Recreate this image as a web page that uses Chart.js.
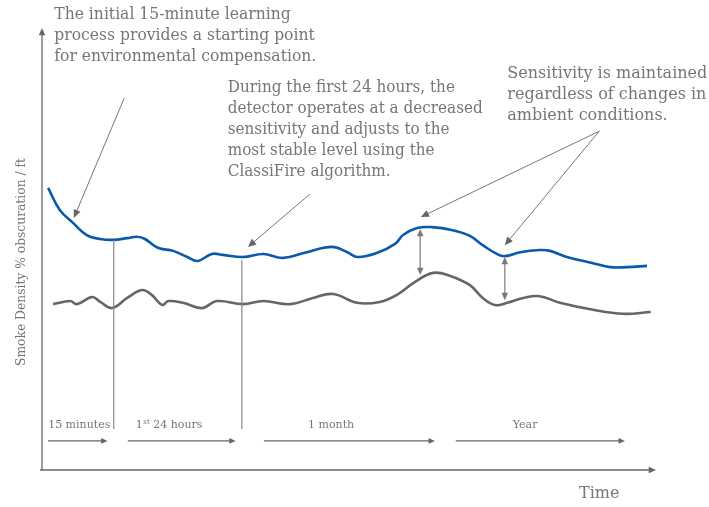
<!DOCTYPE html>
<html>
<head>
<meta charset="utf-8">
<script src="https://cdn.jsdelivr.net/npm/chart.js@4/dist/chart.umd.min.js"></script>
<style>body{margin:0;background:#fff}</style>
</head>
<body>
<canvas id="sensitivity-chart" width="709" height="507"></canvas>
<script>
// time runs 0..100 along x, smoke density 0..100 up y (no real units in the drawing)
var blueTime = [1.0, 2.9, 5.1, 7.3, 9.5, 11.7, 13.9, 15.5, 16.8, 18.9, 21.4, 23.7, 25.4, 27.7, 29.5, 32.8, 36.1, 39.3, 43.2, 47.3, 49.8, 51.5, 54.6, 57.6, 58.9, 61.2, 63.6, 67.0, 69.8, 71.9, 74.2, 75.5, 78.0, 81.2, 82.9, 85.6, 89.9, 92.7, 95.4, 98.7];
var blueDensity = [64.1, 59.1, 56.1, 53.4, 52.5, 52.3, 52.7, 53.0, 52.5, 50.5, 49.8, 48.4, 47.5, 49.1, 48.9, 48.4, 49.1, 48.2, 49.5, 50.7, 49.5, 48.4, 49.3, 51.4, 53.4, 55.0, 55.2, 54.5, 53.2, 51.1, 49.1, 48.6, 49.5, 50.0, 49.8, 48.4, 47.0, 46.1, 46.1, 46.4];
var greyTime = [1.8, 4.6, 5.7, 8.2, 9.5, 11.4, 13.9, 16.3, 17.9, 19.6, 20.6, 23.0, 26.1, 28.5, 32.8, 36.1, 40.5, 44.2, 47.5, 51.4, 55.1, 57.9, 60.8, 63.8, 66.6, 69.8, 71.9, 73.9, 75.9, 78.5, 81.2, 84.5, 89.9, 94.8, 99.3];
var greyDensity = [37.7, 38.4, 37.7, 39.3, 38.2, 36.8, 39.1, 40.9, 39.8, 37.5, 38.4, 38.0, 36.8, 38.4, 37.7, 38.4, 37.7, 39.1, 40.0, 38.0, 38.2, 39.8, 42.7, 44.8, 44.1, 42.0, 39.1, 37.5, 38.0, 39.1, 39.5, 38.0, 36.4, 35.5, 35.9];

// phases along the bottom
var phaseLabels = ['15 minutes', '1st 24 hours', '1 month', 'Year'];
var phaseStart = [1.0, 14.0, 36.2, 67.5];
var phaseEnd = [10.7, 31.6, 64.1, 95.1];
var phaseLabelStart = [1.0, 15.3, 43.4, 76.8];

// phase boundaries dropped from the blue line
var markerTime = [11.7, 32.6];
var markerTop = [52.3, 47.7];

// sensitivity gap between the lines
var gapTime = [61.7, 75.5];
var gapTop = [54.8, 48.4];
var gapBottom = [44.3, 38.6];

var notes = [
  { x: 2.0, y: 103.4, lines: ['The initial 15-minute learning', 'process provides a starting point', 'for environmental compensation.'], width: 262,
    arrows: [[13.4, 84.5, 5.2, 57.3]] },
  { x: 30.3, y: 86.8, lines: ['During the first 24 hours, the', 'detector operates at a decreased', 'sensitivity and adjusts to the', 'most stable level using the', 'ClassiFire algorithm.'], width: 255,
    arrows: [[43.7, 62.7, 33.6, 50.7]] },
  { x: 75.9, y: 90.0, lines: ['Sensitivity is maintained', 'regardless of changes in', 'ambient conditions.'], width: 200,
    arrows: [[90.9, 77.0, 61.8, 57.5], [90.9, 77.0, 75.5, 51.1]] }
];

var FONT = '"DejaVu Serif", serif';
var TEXT = '#767676';

function toPoints(xs, ys) {
  return xs.map((x, i) => ({ x: x, y: ys[i] }));
}

function head(ctx, x1, y1, x2, y2, size) {
  let a = Math.atan2(y2 - y1, x2 - x1);
  ctx.beginPath();
  ctx.moveTo(x2, y2);
  ctx.lineTo(x2 - size * Math.cos(a - 0.42), y2 - size * Math.sin(a - 0.42));
  ctx.lineTo(x2 - size * Math.cos(a + 0.42), y2 - size * Math.sin(a + 0.42));
  ctx.closePath();
  ctx.fill();
}

function arrow(ctx, x1, y1, x2, y2, size) {
  let a = Math.atan2(y2 - y1, x2 - x1);
  ctx.beginPath();
  ctx.moveTo(x1, y1);
  ctx.lineTo(x2 - size * 0.8 * Math.cos(a), y2 - size * 0.8 * Math.sin(a));
  ctx.stroke();
  head(ctx, x1, y1, x2, y2, size);
}

// horizontal squeeze so the widest line at this size fills the width (the original face is narrower)
function squeeze(ctx, lines, size, width) {
  ctx.font = size + 'px ' + FONT;
  let w = Math.max.apply(null, lines.map(l => ctx.measureText(l).width));
  return width / w;
}

var decorations = {
  id: 'decorations',
  beforeDatasetsDraw(chart) {
    const ctx = chart.ctx, a = chart.chartArea;
    ctx.save();
    ctx.strokeStyle = '#666';
    ctx.fillStyle = '#666';
    ctx.lineWidth = 1.3;
    arrow(ctx, a.left, a.bottom, a.left, a.top - 2, 8);
    arrow(ctx, a.left - 2, a.bottom, a.right + 1, a.bottom, 8);

    // axis titles
    const yTitle = 'Smoke Density % obscuration / ft';
    ctx.fillStyle = TEXT;
    ctx.textBaseline = 'middle';
    ctx.save();
    let k = squeeze(ctx, [yTitle], 13.5, 208);
    ctx.translate(21, 262);
    ctx.rotate(-Math.PI / 2);
    ctx.scale(k, 1);
    ctx.textAlign = 'center';
    ctx.fillText(yTitle, 0, 0);
    ctx.restore();
    ctx.font = '16px ' + FONT;
    ctx.textAlign = 'left';
    ctx.fillText('Time', 579, 494);
    ctx.restore();
  },
  afterDatasetsDraw(chart) {
    const ctx = chart.ctx, xs = chart.scales.x, ys = chart.scales.y;
    ctx.save();

    // phase markers
    ctx.strokeStyle = '#8a8a8a';
    ctx.lineWidth = 1.2;
    markerTime.forEach((t, i) => {
      ctx.beginPath();
      ctx.moveTo(xs.getPixelForValue(t), ys.getPixelForValue(markerTop[i]));
      ctx.lineTo(xs.getPixelForValue(t), ys.getPixelForValue(9.3));
      ctx.stroke();
    });

    // phase arrows and labels
    ctx.strokeStyle = '#666';
    ctx.fillStyle = '#666';
    ctx.lineWidth = 1.2;
    phaseLabels.forEach((lab, i) => {
      let y = ys.getPixelForValue(6.6);
      arrow(ctx, xs.getPixelForValue(phaseStart[i]), y, xs.getPixelForValue(phaseEnd[i]), y, 7);
    });
    ctx.fillStyle = TEXT;
    ctx.textBaseline = 'middle';
    ctx.textAlign = 'left';
    phaseLabels.forEach((lab, i) => {
      let x = xs.getPixelForValue(phaseLabelStart[i]), y = ys.getPixelForValue(10.2);
      ctx.font = '11px ' + FONT;
      if (lab.indexOf('1st') === 0) {
        ctx.fillText('1', x, y);
        let w = ctx.measureText('1').width;
        ctx.font = '7px ' + FONT;
        ctx.fillText('st', x + w + 0.5, y - 3);
        let w2 = ctx.measureText('st').width;
        ctx.font = '11px ' + FONT;
        ctx.fillText(lab.slice(3), x + w + w2 + 0.5, y);
      } else {
        ctx.fillText(lab, x, y);
      }
    });

    // gap arrows
    ctx.strokeStyle = '#9a9a9a';
    ctx.fillStyle = '#7a7a7a';
    ctx.lineWidth = 1.6;
    gapTime.forEach((t, i) => {
      let x = xs.getPixelForValue(t), y1 = ys.getPixelForValue(gapTop[i]), y2 = ys.getPixelForValue(gapBottom[i]);
      ctx.beginPath();
      ctx.moveTo(x, y1 + 5);
      ctx.lineTo(x, y2 - 5);
      ctx.stroke();
      head(ctx, x, y2, x, y1, 8);
      head(ctx, x, y1, x, y2, 8);
    });

    // notes
    notes.forEach(n => {
      let k = squeeze(ctx, n.lines, 16, n.width);
      let x = xs.getPixelForValue(n.x), y = ys.getPixelForValue(n.y);
      ctx.save();
      ctx.fillStyle = TEXT;
      ctx.translate(x, y);
      ctx.scale(k, 1);
      n.lines.forEach((l, j) => ctx.fillText(l, 0, j * 21));
      ctx.restore();
      ctx.strokeStyle = '#777';
      ctx.fillStyle = '#666';
      ctx.lineWidth = 1;
      n.arrows.forEach(p => arrow(ctx, xs.getPixelForValue(p[0]), ys.getPixelForValue(p[1]),
        xs.getPixelForValue(p[2]), ys.getPixelForValue(p[3]), 9));
    });
    ctx.restore();
  }
};

var ctx = document.getElementById('sensitivity-chart').getContext('2d');
new Chart(ctx, {
  type: 'line',
  data: {
    datasets: [
      { label: 'Detector threshold', data: toPoints(blueTime, blueDensity), borderColor: '#0a59aa', borderWidth: 2.6 },
      { label: 'Ambient level', data: toPoints(greyTime, greyDensity), borderColor: '#666666', borderWidth: 2.6 }
    ]
  },
  plugins: [decorations],
  options: {
    responsive: false,
    animation: false,
    layout: { padding: { left: 42, top: 30, right: 54, bottom: 37 } },
    elements: { point: { radius: 0 }, line: { tension: 0.4, fill: false } },
    plugins: { legend: { display: false }, tooltip: { enabled: false } },
    scales: {
      x: { type: 'linear', min: 0, max: 100, display: false },
      y: { min: 0, max: 100, display: false }
    }
  }
});
</script>
</body>
</html>
